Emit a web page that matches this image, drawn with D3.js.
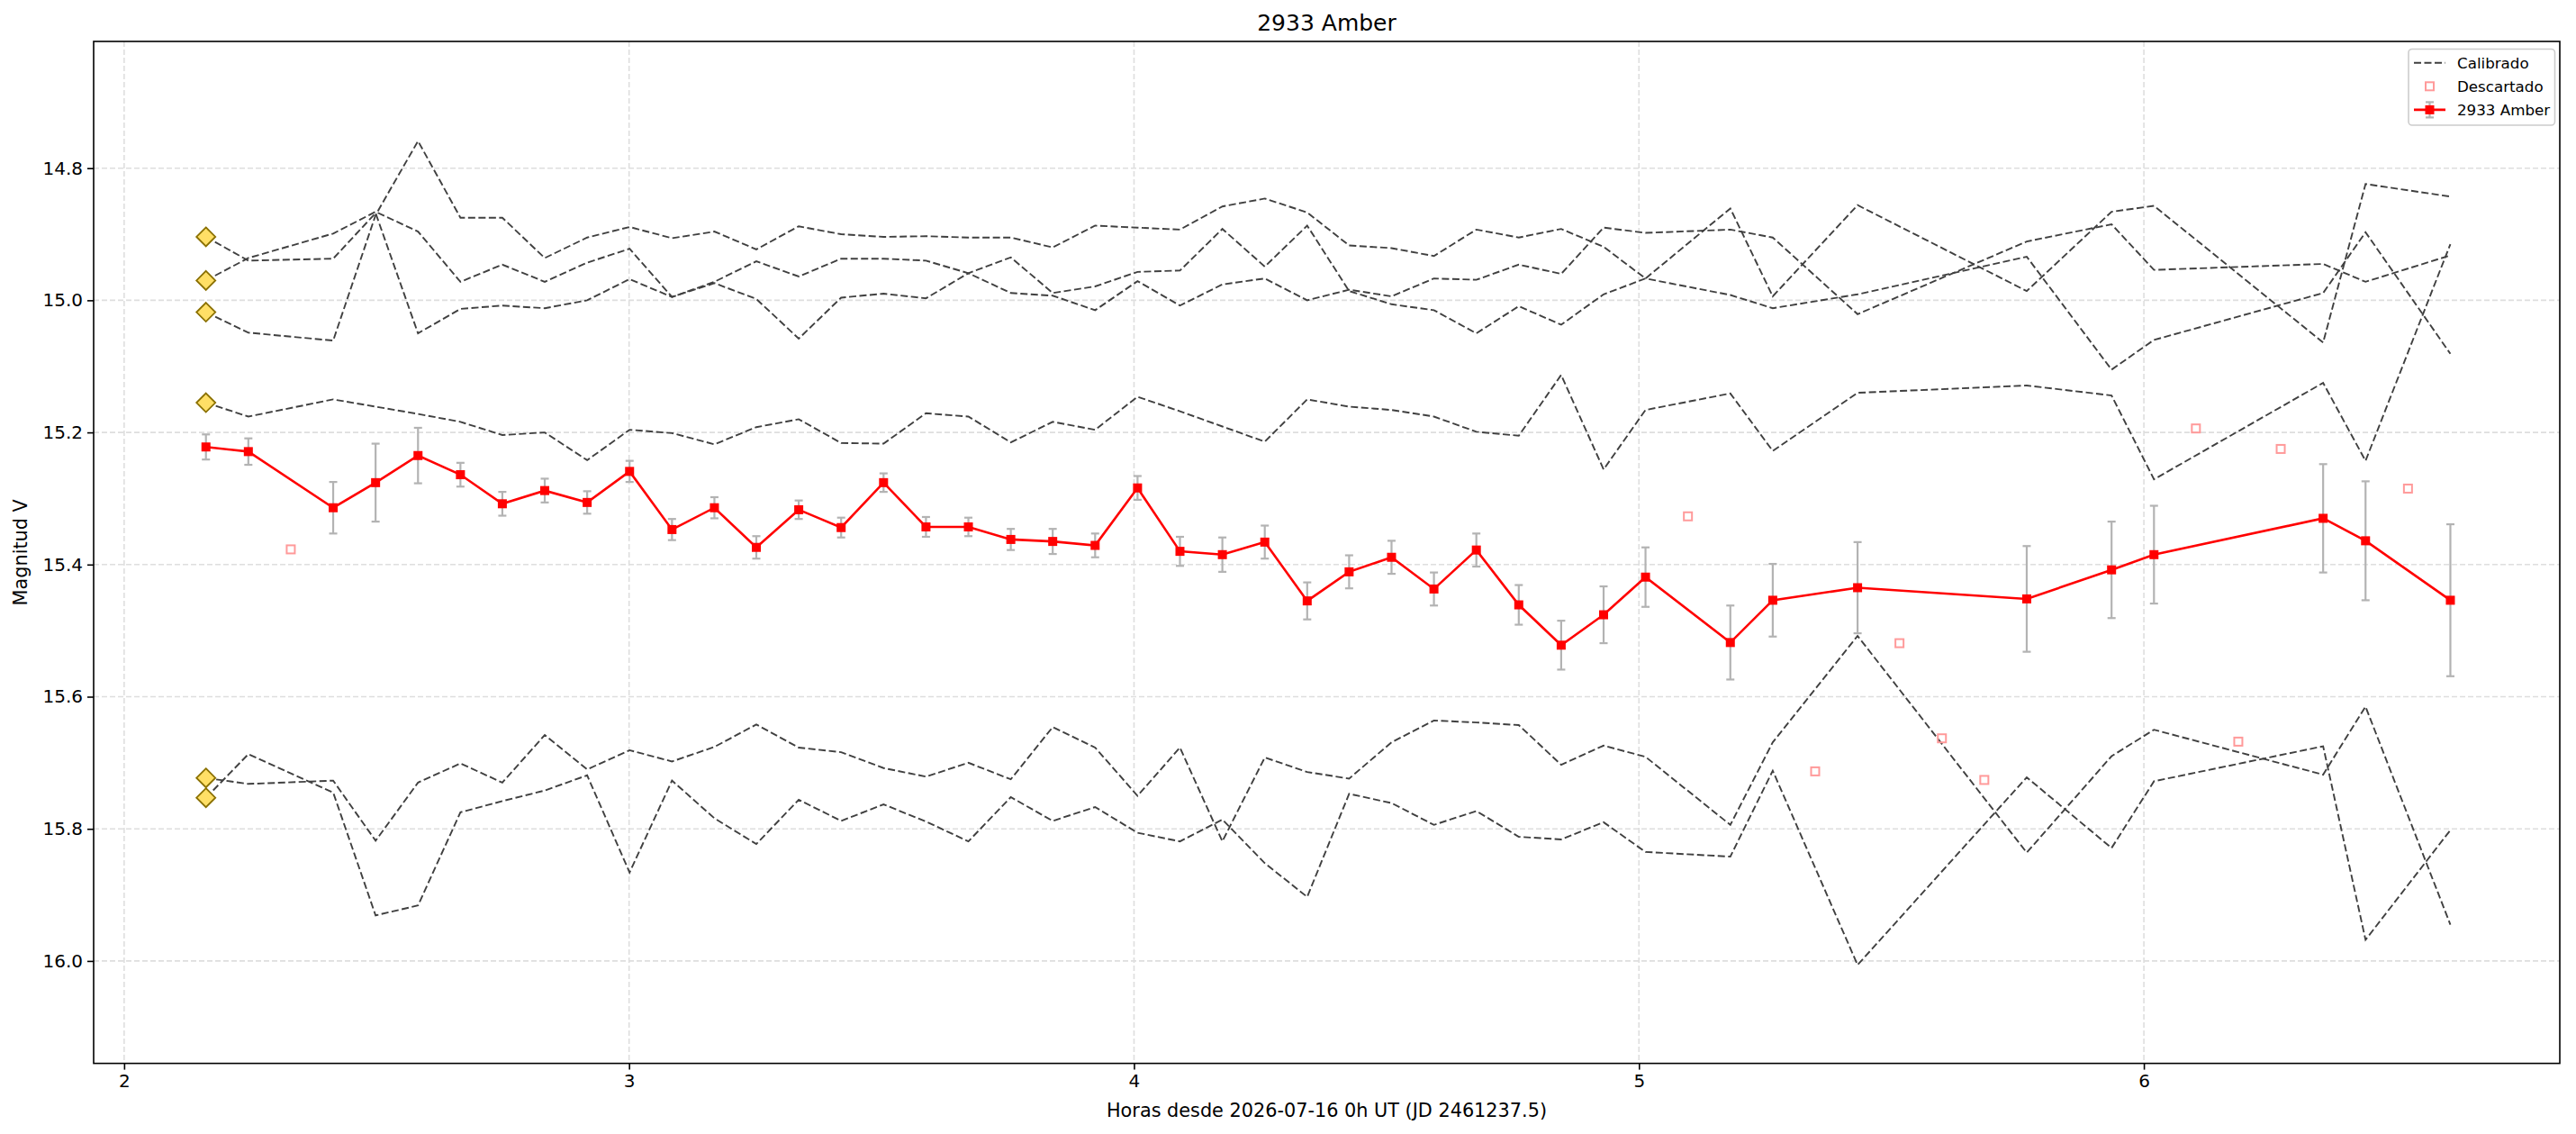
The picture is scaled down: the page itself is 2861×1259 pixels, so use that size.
<!DOCTYPE html>
<html><head><meta charset="utf-8">
<script src="https://cdn.jsdelivr.net/npm/d3@7"></script>
<style>
body{margin:0;background:#fff}
svg{display:block}
text{font-family:"DejaVu Sans",sans-serif;fill:#000}
</style>
</head><body>
<svg id="chart" width="2861" height="1259"></svg>
<script>
// ---------------- DATA ----------------
const xTicks = [2, 3, 4, 5, 6];
const yTicks = [14.8, 15.0, 15.2, 15.4, 15.6, 15.8, 16.0];

// good frames (hours since 2026-07-16 0h UT)
const hours = [2.162, 2.246, 2.414, 2.498, 2.582, 2.666, 2.749, 2.833, 2.917, 3.001,
  3.085, 3.169, 3.252, 3.336, 3.420, 3.504, 3.588, 3.672, 3.756, 3.839,
  3.923, 4.007, 4.091, 4.175, 4.259, 4.343, 4.426, 4.510, 4.594, 4.678,
  4.762, 4.846, 4.930, 5.013, 5.181, 5.265, 5.433, 5.768, 5.936, 6.020,
  6.355, 6.439, 6.607];

// 2933 Amber magnitudes and errors
const targetMag = [15.222, 15.229, 15.314, 15.276, 15.235, 15.264, 15.308, 15.288, 15.306, 15.259,
  15.347, 15.314, 15.374, 15.317, 15.344, 15.276, 15.343, 15.343, 15.362, 15.365,
  15.371, 15.284, 15.380, 15.385, 15.366, 15.455, 15.411, 15.389, 15.437, 15.378,
  15.461, 15.522, 15.476, 15.419, 15.518, 15.454, 15.435, 15.452, 15.408, 15.385,
  15.330, 15.364, 15.454];
const targetErr = [0.019, 0.020, 0.039, 0.059, 0.042, 0.018, 0.018, 0.018, 0.017, 0.016,
  0.016, 0.016, 0.017, 0.014, 0.015, 0.014, 0.015, 0.014, 0.016, 0.019,
  0.018, 0.018, 0.022, 0.026, 0.025, 0.028, 0.025, 0.025, 0.025, 0.025,
  0.030, 0.037, 0.043, 0.045, 0.056, 0.055, 0.069, 0.080, 0.073, 0.074,
  0.082, 0.090, 0.115];

// discarded frames
const discardHours = [2.330, 5.097, 5.349, 5.516, 5.600, 5.684, 6.103, 6.187, 6.271, 6.523];
const discardMag = [15.377, 15.327, 15.713, 15.519, 15.663, 15.726, 15.194, 15.668, 15.225, 15.285];

// calibrated comparison stars
const compA = [14.904, 14.940, 14.937, 14.868, 15.050, 15.013, 15.008, 15.012, 15.000, 14.968,
  14.995, 14.974, 14.998, 15.058, 14.996, 14.990, 14.997, 14.959, 14.935, 14.989,
  14.979, 14.957, 14.955, 14.892, 14.949, 14.887, 14.986, 15.006, 15.015, 15.050,
  15.009, 15.037, 14.991, 14.967, 14.992, 15.012, 14.991, 14.934, 15.105, 15.060,
  14.989, 14.897, 15.081];
const compB = [14.970, 14.936, 14.899, 14.866, 14.896, 14.972, 14.946, 14.972, 14.943, 14.922,
  14.995, 14.972, 14.941, 14.964, 14.937, 14.937, 14.940, 14.959, 14.989, 14.993,
  15.015, 14.971, 15.008, 14.976, 14.967, 15.000, 14.984, 14.994, 14.967, 14.969,
  14.946, 14.960, 14.890, 14.898, 14.893, 14.905, 15.021, 14.911, 14.885, 14.954,
  14.945, 14.972, 14.932];
const compC = [15.018, 15.049, 15.061, 14.871, 14.759, 14.875, 14.875, 14.936, 14.905, 14.889,
  14.906, 14.896, 14.923, 14.888, 14.900, 14.904, 14.903, 14.905, 14.905, 14.920,
  14.887, 14.890, 14.893, 14.858, 14.846, 14.867, 14.917, 14.921, 14.933, 14.893,
  14.905, 14.892, 14.919, 14.967, 14.861, 14.994, 14.856, 14.986, 14.866, 14.857,
  15.064, 14.824, 14.843];
const compD = [15.155, 15.176, 15.150, 15.161, 15.172, 15.184, 15.204, 15.200, 15.242, 15.196,
  15.201, 15.218, 15.192, 15.180, 15.216, 15.217, 15.171, 15.176, 15.215, 15.184,
  15.196, 15.146, 15.168, 15.191, 15.214, 15.150, 15.161, 15.166, 15.176, 15.199,
  15.205, 15.113, 15.256, 15.166, 15.141, 15.228, 15.140, 15.129, 15.144, 15.271,
  15.125, 15.243, 14.915];
const compE = [15.723, 15.732, 15.727, 15.818, 15.730, 15.701, 15.730, 15.658, 15.710, 15.681,
  15.698, 15.676, 15.642, 15.677, 15.684, 15.708, 15.721, 15.700, 15.725, 15.646,
  15.677, 15.750, 15.677, 15.819, 15.692, 15.714, 15.724, 15.669, 15.636, 15.639,
  15.643, 15.703, 15.674, 15.691, 15.794, 15.669, 15.508, 15.836, 15.690, 15.650,
  15.718, 15.615, 15.945];
const compF = [15.753, 15.687, 15.745, 15.931, 15.916, 15.775, 15.758, 15.742, 15.719, 15.866,
  15.727, 15.784, 15.823, 15.756, 15.788, 15.763, 15.789, 15.819, 15.752, 15.788,
  15.767, 15.806, 15.819, 15.786, 15.852, 15.903, 15.747, 15.761, 15.794, 15.773,
  15.812, 15.816, 15.790, 15.835, 15.842, 15.712, 16.006, 15.722, 15.829, 15.728,
  15.675, 15.968, 15.802];
const comps = [compA, compB, compC, compD, compE, compF];

const titleText = "2933 Amber";
const xLabel = "Horas desde 2026-07-16 0h UT (JD 2461237.5)";
const yLabel = "Magnitud V";
const legendLabels = ["Calibrado", "Descartado", "2933 Amber"];

// ---------------- LAYOUT ----------------
const L = 104, R = 2843, T = 46, B = 1180.6;
const svg = d3.select("#chart");
const x = d3.scaleLinear().domain([1.9396, 6.8237]).range([L, R]);
const y = d3.scaleLinear().domain([14.6082, 16.155]).range([T, B]);

// grid
const grid = svg.append("g");
grid.selectAll("line.gx").data(xTicks).join("line")
  .attr("x1", d => x(d)).attr("x2", d => x(d)).attr("y1", T).attr("y2", B)
  .attr("stroke", "#dedede").attr("stroke-width", 1.6).attr("stroke-dasharray", "6,3");
grid.selectAll("line.gy").data(yTicks).join("line")
  .attr("y1", d => y(d)).attr("y2", d => y(d)).attr("x1", L).attr("x2", R)
  .attr("stroke", "#dedede").attr("stroke-width", 1.6).attr("stroke-dasharray", "6,3");

// clip
svg.append("clipPath").attr("id", "clip").append("rect")
  .attr("x", L).attr("y", T).attr("width", R - L).attr("height", B - T);
const plot = svg.append("g").attr("clip-path", "url(#clip)");

// comparison lines
const line = d3.line().x(d => x(d[0])).y(d => y(d[1]));
comps.forEach(c => {
  plot.append("path").datum(hours.map((h, i) => [h, c[i]]))
    .attr("d", line).attr("fill", "none")
    .attr("stroke", "#404040").attr("stroke-width", 1.9)
    .attr("stroke-dasharray", "8,3.5");
});

// start diamonds
const dsz = 10.5;
plot.selectAll("path.dia").data(comps).join("path")
  .attr("d", c => {
    const cx = x(hours[0]), cy = y(c[0]);
    return `M${cx},${cy - dsz}L${cx + dsz},${cy}L${cx},${cy + dsz}L${cx - dsz},${cy}Z`;
  })
  .attr("fill", "#ffdf66").attr("stroke", "#8a7000").attr("stroke-width", 1.8);

// discarded
plot.selectAll("rect.disc").data(discardHours).join("rect")
  .attr("x", (d) => x(d) - 4.5).attr("y", (d, i) => y(discardMag[i]) - 4.5)
  .attr("width", 9).attr("height", 9)
  .attr("fill", "none").attr("stroke", "#ff9a9a").attr("stroke-width", 2);

// error bars
const eb = plot.append("g").attr("stroke", "#b3b3b3").attr("stroke-width", 2.2);
hours.forEach((h, i) => {
  const cx = x(h), y1 = y(targetMag[i] - targetErr[i]), y2 = y(targetMag[i] + targetErr[i]);
  eb.append("line").attr("x1", cx).attr("x2", cx).attr("y1", y1).attr("y2", y2);
  eb.append("line").attr("x1", cx - 4.5).attr("x2", cx + 4.5).attr("y1", y1).attr("y2", y1);
  eb.append("line").attr("x1", cx - 4.5).attr("x2", cx + 4.5).attr("y1", y2).attr("y2", y2);
});

// target line + markers
plot.append("path").datum(hours.map((h, i) => [h, targetMag[i]]))
  .attr("d", line).attr("fill", "none").attr("stroke", "#ff0000").attr("stroke-width", 2.6);
plot.selectAll("rect.tg").data(hours).join("rect")
  .attr("x", d => x(d) - 5).attr("y", (d, i) => y(targetMag[i]) - 5)
  .attr("width", 10).attr("height", 10).attr("fill", "#ff0000");

// frame
svg.append("rect").attr("x", L).attr("y", T).attr("width", R - L).attr("height", B - T)
  .attr("fill", "none").attr("stroke", "#000").attr("stroke-width", 1.6);

// axes
const xa = svg.append("g").attr("transform", `translate(0,${B})`)
  .call(d3.axisBottom(x).tickValues(xTicks).tickFormat(d3.format("d")).tickSize(7).tickPadding(5));
const ya = svg.append("g").attr("transform", `translate(${L},0)`)
  .call(d3.axisLeft(y).tickValues(yTicks).tickFormat(d3.format(".1f")).tickSize(7).tickPadding(5));
[xa, ya].forEach(a => {
  a.select(".domain").remove();
  a.selectAll(".tick line").attr("stroke", "#000").attr("stroke-width", 1.6);
  a.selectAll(".tick text").attr("font-size", "20px").attr("font-family", "DejaVu Sans").attr("fill", "#000");
});

// labels
svg.append("text").attr("x", (L + R) / 2).attr("y", 34).attr("text-anchor", "middle")
  .attr("font-size", "25px").text(titleText);
svg.append("text").attr("x", (L + R) / 2).attr("y", 1240).attr("text-anchor", "middle")
  .attr("font-size", "20.8px").text(xLabel);
svg.append("text").attr("transform", `translate(30,${(T + B) / 2}) rotate(-90)`)
  .attr("text-anchor", "middle").attr("font-size", "20.8px").text(yLabel);

// legend
const lg = svg.append("g");
lg.append("rect").attr("x", 2675).attr("y", 54.5).attr("width", 162.5).attr("height", 84.5)
  .attr("rx", 4).attr("fill", "#fff").attr("fill-opacity", 0.8)
  .attr("stroke", "#cccccc").attr("stroke-width", 1.6);
const ly = [69.8, 95.8, 121.9];
lg.append("line").attr("x1", 2681).attr("x2", 2716).attr("y1", ly[0]).attr("y2", ly[0])
  .attr("stroke", "#404040").attr("stroke-width", 1.9).attr("stroke-dasharray", "8,3.5");
lg.append("rect").attr("x", 2698.5 - 4.5).attr("y", ly[1] - 4.5).attr("width", 9).attr("height", 9)
  .attr("fill", "none").attr("stroke", "#ff9a9a").attr("stroke-width", 2);
lg.append("line").attr("x1", 2698.5).attr("x2", 2698.5).attr("y1", ly[2] - 8.5).attr("y2", ly[2] + 8.5)
  .attr("stroke", "#b3b3b3").attr("stroke-width", 2.2);
[ly[2] - 8.5, ly[2] + 8.5].forEach(v => lg.append("line").attr("x1", 2694).attr("x2", 2703)
  .attr("y1", v).attr("y2", v).attr("stroke", "#b3b3b3").attr("stroke-width", 2.2));
lg.append("line").attr("x1", 2681).attr("x2", 2716).attr("y1", ly[2]).attr("y2", ly[2])
  .attr("stroke", "#ff0000").attr("stroke-width", 2.6);
lg.append("rect").attr("x", 2698.5 - 5).attr("y", ly[2] - 5).attr("width", 10).attr("height", 10)
  .attr("fill", "#ff0000");
lg.selectAll("text.lt").data(legendLabels).join("text")
  .attr("x", 2729).attr("y", (d, i) => ly[i]).attr("dy", "0.35em")
  .attr("font-size", "16.7px").text(d => d);
</script>
</body></html>
